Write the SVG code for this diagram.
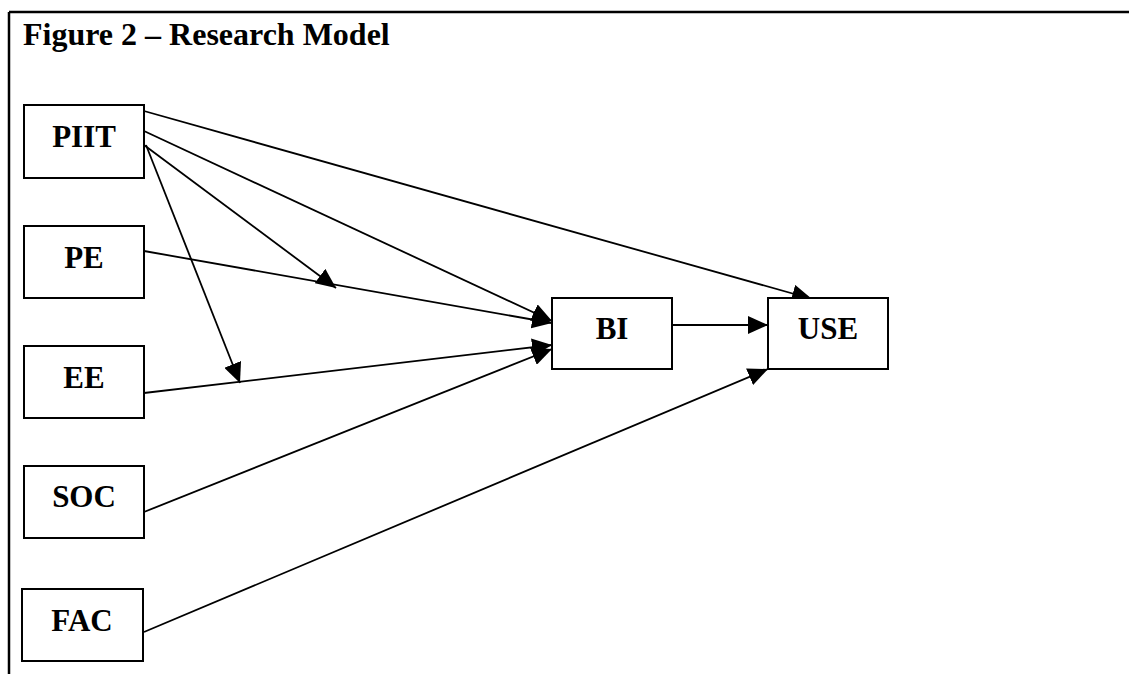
<svg xmlns="http://www.w3.org/2000/svg" width="1129" height="674" viewBox="0 0 1129 674">
  <style>
    .box { fill: #fff; stroke: #000; stroke-width: 2; }
    .lbl { font-family: "Liberation Serif", "Times New Roman", serif; font-weight: bold; font-size: 31px; text-anchor: middle; fill: #000; }
    .title { font-family: "Liberation Serif", "Times New Roman", serif; font-weight: bold; font-size: 32px; fill: #000; }
    .edge { fill: none; stroke: #000; stroke-width: 1.8; marker-end: url(#arrow); }
  </style>
  <defs>
    <marker id="arrow" markerUnits="userSpaceOnUse" markerWidth="20" markerHeight="18" refX="20" refY="9" orient="auto">
      <path d="M0,0 L20,9 L0,18 z" fill="#000"/>
    </marker>
  </defs>
  <rect width="1129" height="674" fill="#fff"/>

  <!-- frame -->
  <g id="frame" stroke="#000" stroke-width="2.5" fill="none">
    <line x1="9" y1="12" x2="1129" y2="12"/>
    <line x1="9" y1="12" x2="9" y2="674"/>
  </g>
  <text class="title" x="23" y="45">Figure 2 – Research Model</text>

  <!-- connectors -->
  <g id="connectors">
    <line class="edge" x1="144" y1="111" x2="812" y2="299"/>
    <line class="edge" x1="144" y1="131" x2="552" y2="321"/>
    <line class="edge" x1="144" y1="145" x2="336" y2="288"/>
    <line class="edge" x1="146" y1="145" x2="240" y2="383"/>
    <line class="edge" x1="144" y1="251" x2="552" y2="323"/>
    <line class="edge" x1="144" y1="393" x2="552" y2="345"/>
    <line class="edge" x1="144" y1="512" x2="552" y2="349"/>
    <line class="edge" x1="144" y1="632" x2="768" y2="369"/>
    <line class="edge" x1="672" y1="325" x2="768" y2="325"/>
  </g>

  <!-- nodes -->
  <g id="PIIT"><rect class="box" x="24" y="105" width="120" height="73"/><text class="lbl" x="84" y="147">PIIT</text></g>
  <g id="PE"><rect class="box" x="24" y="226" width="120" height="72"/><text class="lbl" x="84" y="268">PE</text></g>
  <g id="EE"><rect class="box" x="24" y="346" width="120" height="72"/><text class="lbl" x="84" y="388">EE</text></g>
  <g id="SOC"><rect class="box" x="24" y="466" width="120" height="72"/><text class="lbl" x="84" y="507">SOC</text></g>
  <g id="FAC"><rect class="box" x="22" y="589" width="121" height="72"/><text class="lbl" x="82" y="631">FAC</text></g>
  <g id="BI"><rect class="box" x="552" y="298" width="120" height="71"/><text class="lbl" x="612" y="339">BI</text></g>
  <g id="USE"><rect class="box" x="768" y="298" width="120" height="71"/><text class="lbl" x="828" y="339">USE</text></g>
</svg>
